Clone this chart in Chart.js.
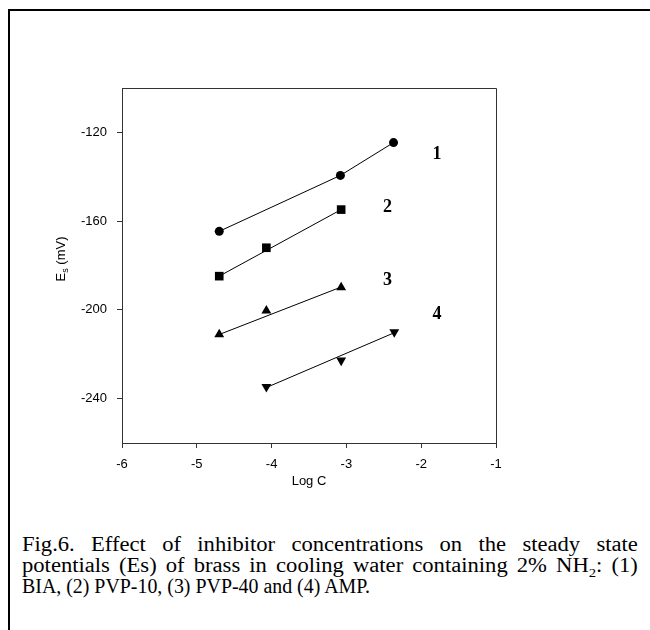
<!DOCTYPE html>
<html>
<head>
<meta charset="utf-8">
<script src="https://cdn.jsdelivr.net/npm/chart.js@4"></script>
<style>
  body { margin: 0; background: #fff; overflow: hidden; }
  #frame {
    position: absolute; left: 8px; top: 9px; width: 640px; height: 619px;
    border-top: 2px solid #000; border-left: 2px solid #000;
  }
  #wrap { position: absolute; left: 0; top: 0; width: 650px; height: 500px; }
  #caption {
    position: absolute; left: 22px; top: 534px; width: 545px;
    transform: scaleX(1.13); transform-origin: 0 0;
    font-family: "Liberation Serif", "Times New Roman", serif;
    font-size: 20px; line-height: 21px; color: #000;
  }
  #caption .full { text-align: justify; text-align-last: justify; }
  #caption .last { transform: scaleX(0.88); transform-origin: 0 0; white-space: nowrap; }
  #caption sub { font-size: 13px; line-height: 0; }
</style>
</head>
<body>
<div id="frame"></div>
<div id="wrap"><canvas id="esChart" width="650" height="500"></canvas></div>
<div id="caption">
  <div class="full">Fig.6. Effect of inhibitor concentrations on the steady state</div>
  <div class="full">potentials (Es) of brass in cooling water containing 2% NH<sub>2</sub>: (1)</div>
  <div class="last">BIA, (2) PVP-10, (3) PVP-40 and (4) AMP.</div>
</div>

<script>
const xTicks = [-6, -5, -4, -3, -2, -1];
const yTicks = [-240, -200, -160, -120];

// measured points, Log C vs Es (mV)
const logC1 = [-4.70, -3.08, -2.37];
const es1 = [-164.6, -139.4, -124.6];
const logC2 = [-4.70, -4.07, -3.07];
const es2 = [-184.8, -172.0, -154.8];
const logC3 = [-4.70, -4.07, -3.07];
const es3 = [-211.1, -200.4, -189.9];
const logC4 = [-4.07, -3.07, -2.36];
const es4 = [-234.7, -222.8, -210.0];

// lines as drawn in the figure (curve 1 runs through its points)
const fitX1 = [-4.70, -3.08, -2.37];
const fitY1 = [-164.6, -139.4, -124.6];
const fitX2 = [-4.70, -3.07];
const fitY2 = [-184.8, -154.8];
const fitX3 = [-4.70, -3.07];
const fitY3 = [-211.1, -189.7];
const fitX4 = [-4.07, -2.36];
const fitY4 = [-235.0, -210.3];

// curve numbers next to the lines
const curveLabels = ["1", "2", "3", "4"];
const labelX = [-1.79, -2.45, -2.45, -1.79];
const labelY = [-129.7, -154.0, -186.6, -202.2];

const toPts = (xs, ys) => xs.map((x, i) => ({ x: x, y: ys[i] }));

const sansFont = { family: "'Liberation Sans', Arial, sans-serif", size: 13 };

const boxPlugin = {
  id: "plotBox",
  afterDraw: (chart) => {
    const { ctx, chartArea } = chart;
    const l = Math.round(chartArea.left) + 0.5;
    const t = Math.round(chartArea.top) + 0.5;
    const r = Math.round(chartArea.right) + 0.5;
    const b = Math.round(chartArea.bottom) + 0.5;
    ctx.save();
    ctx.strokeStyle = "#333";
    ctx.lineWidth = 1;
    ctx.beginPath();
    ctx.moveTo(l, b);
    ctx.lineTo(l, t);
    ctx.lineTo(r, t);
    ctx.lineTo(r, b);
    ctx.stroke();

    // y axis title with subscript
    ctx.translate(60, 259);
    ctx.rotate(-Math.PI / 2);
    ctx.fillStyle = "#000";
    ctx.textBaseline = "alphabetic";
    ctx.font = "13px 'Liberation Sans', Arial, sans-serif";
    const wE = ctx.measureText("E").width;
    const wRest = ctx.measureText(" (mV)").width;
    ctx.font = "9px 'Liberation Sans', Arial, sans-serif";
    const wS = ctx.measureText("s").width;
    let x0 = -(wE + wS + wRest) / 2;
    ctx.font = "13px 'Liberation Sans', Arial, sans-serif";
    ctx.fillText("E", x0, 4.5);
    ctx.font = "9px 'Liberation Sans', Arial, sans-serif";
    ctx.fillText("s", x0 + wE, 7.5);
    ctx.font = "13px 'Liberation Sans', Arial, sans-serif";
    ctx.fillText(" (mV)", x0 + wE + wS, 4.5);
    ctx.restore();

    // curve numbers
    const xs = chart.scales.x, ys = chart.scales.y;
    ctx.save();
    ctx.fillStyle = "#000";
    ctx.font = "bold 18px 'Liberation Serif', 'Times New Roman', serif";
    ctx.textAlign = "center";
    ctx.textBaseline = "middle";
    curveLabels.forEach((txt, i) => {
      ctx.fillText(txt, xs.getPixelForValue(labelX[i]), ys.getPixelForValue(labelY[i]));
    });
    ctx.restore();
  },
};

const lineSet = (xs, ys) => ({
  data: toPts(xs, ys),
  showLine: true,
  borderColor: "#000",
  borderWidth: 1,
  pointRadius: 0,
});

const markSet = (xs, ys, style, radius, rotation) => ({
  data: toPts(xs, ys),
  pointStyle: style,
  pointRadius: radius,
  rotation: rotation || 0,
  backgroundColor: "#000",
  borderColor: "#000",
  borderWidth: 0,
});

const ctx = document.getElementById("esChart").getContext("2d");
const chart = new Chart(ctx, {
  type: "scatter",
  data: {
    datasets: [
      lineSet(fitX1, fitY1),
      lineSet(fitX2, fitY2),
      lineSet(fitX3, fitY3),
      lineSet(fitX4, fitY4),
      markSet(logC1, es1, "circle", 4.5),
      markSet(logC2, es2, "rect", 6.1),
      markSet(logC3, es3, "triangle", 5.7),
      markSet(logC4, es4, "triangle", 5.7, 180),
    ],
  },
  options: {
    responsive: false,
    animation: false,
    layout: { padding: { top: 88, right: 154, left: 0, bottom: 0 } },
    plugins: {
      legend: { display: false },
      tooltip: { enabled: false },
    },
    scales: {
      x: {
        type: "linear",
        min: -6,
        max: -1,
        afterBuildTicks: (scale) => {
          scale.ticks = xTicks.map((v) => ({ value: v }));
        },
        afterFit: (scale) => {
          scale.height = 57;
        },
        ticks: { font: sansFont, color: "#000", padding: 9 },
        grid: { drawOnChartArea: false, tickLength: 5, color: "#333" },
        border: { color: "#333" },
        title: {
          display: true,
          text: "Log C",
          font: sansFont,
          color: "#000",
          padding: { top: 0, bottom: 11 },
        },
      },
      y: {
        type: "linear",
        min: -260,
        max: -100,
        afterBuildTicks: (scale) => {
          scale.ticks = yTicks.map((v) => ({ value: v }));
        },
        afterFit: (scale) => {
          scale.width = 122;
        },
        ticks: { font: sansFont, color: "#000", padding: 10 },
        grid: { drawOnChartArea: false, tickLength: 5, color: "#333" },
        border: { color: "#333" },
      },
    },
  },
  plugins: [boxPlugin],
});
</script>
</body>
</html>
